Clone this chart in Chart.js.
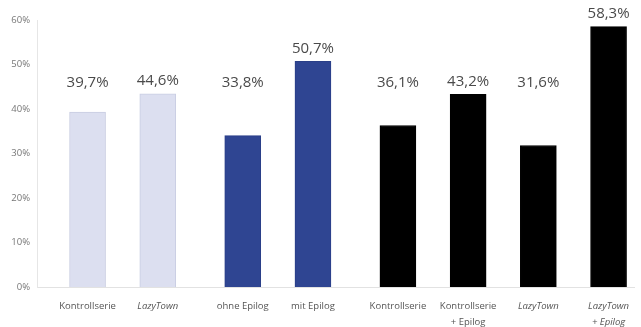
<!DOCTYPE html>
<html>
<head>
<meta charset="utf-8">
<script src="https://cdn.jsdelivr.net/npm/chart.js@4"></script>
<style>
  html, body { margin: 0; padding: 0; background: #fff; overflow: hidden; }
  #wrap { width: 641px; height: 327px; position: relative; }
</style>
</head>
<body>
<div id="wrap"><canvas id="chart"></canvas></div>
<script>
const categories = [
  'Kontrollserie', 'LazyTown',
  'ohne Epilog', 'mit Epilog',
  'Kontrollserie', ['Kontrollserie', '+ Epilog'], 'LazyTown', ['LazyTown', '+ Epilog']
];
const groups = [0, 0, 1, 1, 2, 2, 2, 2];
const italic = [false, true, false, false, false, false, true, true];
// bar heights as drawn in the picture (%)
const values = [39.3, 43.4, 34.0, 50.7, 36.3, 43.3, 31.8, 58.5];
// the printed value labels
const valueLabels = ['39,7%', '44,6%', '33,8%', '50,7%', '36,1%', '43,2%', '31,6%', '58,3%'];
const barColors = ['#dcdff0', '#dcdff0', '#2f4592', '#2f4592', '#000000', '#000000', '#000000', '#000000'];
const borderColors = ['#c9cde2', '#c9cde2', '#2a3f88', '#2a3f88', '#000000', '#000000', '#000000', '#000000'];
const yTicks = [0, 10, 20, 30, 40, 50, 60];

// bars sit one unit apart, with a small extra gap between groups
const positions = categories.map((c, i) => i + groups[i] * 0.21);

const valueLabelPlugin = {
  id: 'valueLabels',
  afterDatasetsDraw(chart) {
    const { ctx } = chart;
    const meta = chart.getDatasetMeta(0);
    ctx.save();
    ctx.font = '15px "Open Sans"';
    ctx.fillStyle = '#4a4a4a';
    ctx.textAlign = 'center';
    ctx.textBaseline = 'middle';
    meta.data.forEach((bar, i) => {
      const y = Math.min(83, bar.y - 13);
      ctx.fillText(valueLabels[i], bar.x, y);
    });
    ctx.restore();
  }
};

new Chart(document.getElementById('chart'), {
  type: 'bar',
  data: {
    datasets: [{
      data: values.map((v, i) => ({ x: positions[i], y: v })),
      backgroundColor: barColors,
      borderColor: borderColors,
      borderWidth: 1,
      barThickness: 36
    }]
  },
  options: {
    responsive: true,
    maintainAspectRatio: false,
    animation: false,
    layout: { padding: { top: 20, right: 0, left: 0, bottom: 0 } },
    plugins: { legend: { display: false }, tooltip: { enabled: false } },
    scales: {
      x: {
        type: 'linear',
        offset: false,
        min: -0.72,
        max: 7.79,
        afterBuildTicks(scale) {
          scale.ticks = positions.map(p => ({ value: p }));
        },
        afterFit(scale) { scale.height = 40; },
        grid: { display: false, drawTicks: false },
        border: { color: '#e2e2e2' },
        ticks: {
          autoSkip: false,
          maxRotation: 0,
          padding: 12,
          color: '#555',
          font: ctx => ({ family: '"Open Sans"', size: 9.5, style: italic[ctx.index] ? 'italic' : 'normal', lineHeight: 1.6 }),
          callback: (v, i) => categories[i]
        }
      },
      y: {
        min: 0,
        max: 60,
        afterBuildTicks(scale) {
          scale.ticks = yTicks.map(v => ({ value: v }));
        },
        afterFit(scale) { scale.width = 37; },
        grid: { display: false, drawTicks: false },
        border: { color: '#e6e6e6' },
        ticks: {
          padding: 7,
          color: '#777',
          font: { family: '"Open Sans"', size: 9.5 },
          callback: v => v + '%'
        }
      }
    }
  },
  plugins: [valueLabelPlugin]
});
</script>
</body>
</html>
